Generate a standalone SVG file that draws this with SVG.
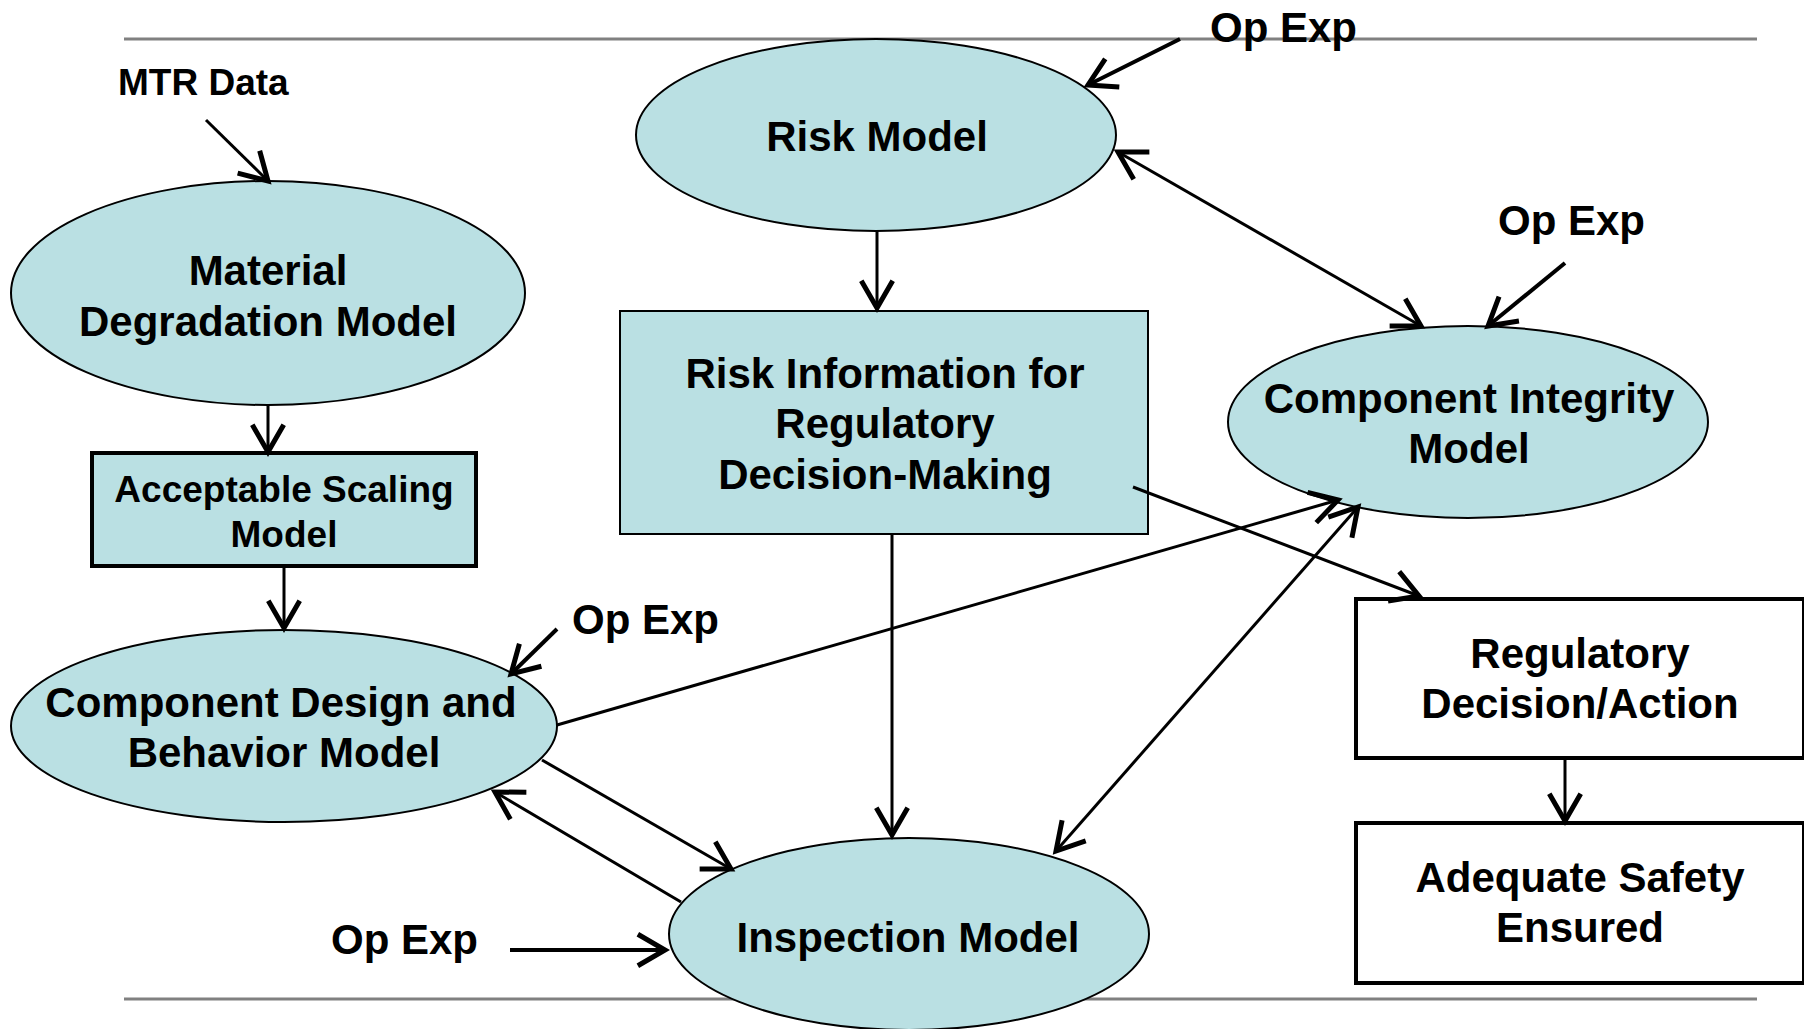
<svg xmlns="http://www.w3.org/2000/svg" width="1804" height="1029" viewBox="0 0 1804 1029">
<style>
.t{font-family:"Liberation Sans",Arial,sans-serif;font-weight:bold;fill:#000;font-size:42px;text-anchor:middle}
.s{font-size:37px}
.l{text-anchor:start}
.node{fill:#BAE0E3;stroke:#000;stroke-width:2}
.box{fill:#BAE0E3;stroke:#000;stroke-width:4}
.wbox{fill:#fff;stroke:#000;stroke-width:4}
.c{stroke:#000;stroke-width:3;fill:none}
.o{stroke:#000;stroke-width:4;fill:none}
.rule{stroke:#808080;stroke-width:3}
</style>
<defs>
<marker id="a" markerUnits="userSpaceOnUse" markerWidth="40" markerHeight="40" viewBox="-22 -14 26 28" refX="0" refY="0" orient="auto-start-reverse">
<path d="M-19,-11 L0,0 L-19,11" fill="none" stroke="#000" stroke-width="3.5"/>
</marker>
</defs>
<rect width="1804" height="1029" fill="#fff"/>
<line class="rule" x1="124" y1="39" x2="1757" y2="39"/>
<line class="rule" x1="124" y1="999" x2="1757" y2="999"/>

<g id="material">
<ellipse class="node" cx="268" cy="293" rx="257" ry="112"/>
<text class="t" x="268" y="285">Material</text>
<text class="t" x="268" y="336">Degradation Model</text>
</g>
<g id="scaling">
<rect class="box" x="92" y="453" width="384" height="113"/>
<text class="t s" x="284" y="502">Acceptable Scaling</text>
<text class="t s" x="284" y="547">Model</text>
</g>
<g id="design">
<ellipse class="node" cx="284" cy="726" rx="273" ry="96"/>
<text class="t" x="281" y="717">Component Design and</text>
<text class="t" x="284" y="767">Behavior Model</text>
</g>
<g id="risk">
<ellipse class="node" cx="876" cy="135" rx="240" ry="96"/>
<text class="t" x="877" y="151">Risk Model</text>
</g>
<g id="riskinfo">
<rect class="node" x="620" y="311" width="528" height="223"/>
<text class="t" x="885" y="388">Risk Information for</text>
<text class="t" x="885" y="438">Regulatory</text>
<text class="t" x="885" y="489">Decision-Making</text>
</g>
<g id="integrity">
<ellipse class="node" cx="1468" cy="422" rx="240" ry="96"/>
<text class="t" x="1469" y="413">Component Integrity</text>
<text class="t" x="1469" y="463">Model</text>
</g>
<g id="inspection">
<ellipse class="node" cx="909" cy="934" rx="240" ry="96"/>
<text class="t" x="908" y="952">Inspection Model</text>
</g>
<g id="regulatory">
<rect class="wbox" x="1356" y="599" width="448" height="159"/>
<text class="t" x="1580" y="668">Regulatory</text>
<text class="t" x="1580" y="718">Decision/Action</text>
</g>
<g id="safety">
<rect class="wbox" x="1356" y="823" width="448" height="160"/>
<text class="t" x="1580" y="892">Adequate Safety</text>
<text class="t" x="1580" y="942">Ensured</text>
</g>

<g id="connectors">
<line class="c" x1="206" y1="120" x2="268" y2="181" marker-end="url(#a)"/>
<line class="c" x1="268" y1="405" x2="268" y2="452" marker-end="url(#a)"/>
<line class="c" x1="284" y1="566" x2="284" y2="628" marker-end="url(#a)"/>
<line class="o" x1="557" y1="629" x2="511" y2="674" marker-end="url(#a)"/>
<line class="c" x1="557" y1="725" x2="1338" y2="500" marker-end="url(#a)"/>
<line class="c" x1="542" y1="760" x2="731" y2="869" marker-end="url(#a)"/>
<line class="c" x1="681" y1="902" x2="495" y2="792" marker-end="url(#a)"/>
<line class="o" x1="510" y1="950" x2="665" y2="950" marker-end="url(#a)"/>
<line class="c" x1="877" y1="231" x2="877" y2="308" marker-end="url(#a)"/>
<line class="c" x1="892" y1="535" x2="892" y2="835" marker-end="url(#a)"/>
<line class="c" x1="1133" y1="487" x2="1419" y2="596" marker-end="url(#a)"/>
<line class="c" x1="1118" y1="152" x2="1421" y2="326" marker-start="url(#a)" marker-end="url(#a)"/>
<line class="o" x1="1180" y1="39" x2="1088" y2="85" marker-end="url(#a)"/>
<line class="o" x1="1565" y1="263" x2="1488" y2="326" marker-end="url(#a)"/>
<line class="c" x1="1358" y1="507" x2="1056" y2="851" marker-start="url(#a)" marker-end="url(#a)"/>
<line class="c" x1="1565" y1="760" x2="1565" y2="821" marker-end="url(#a)"/>
</g>

<g id="labels">
<text class="t s l" x="118" y="95">MTR Data</text>
<text class="t l" x="1210" y="42">Op Exp</text>
<text class="t l" x="1498" y="235">Op Exp</text>
<text class="t l" x="572" y="634">Op Exp</text>
<text class="t l" x="331" y="954">Op Exp</text>
</g>
</svg>
